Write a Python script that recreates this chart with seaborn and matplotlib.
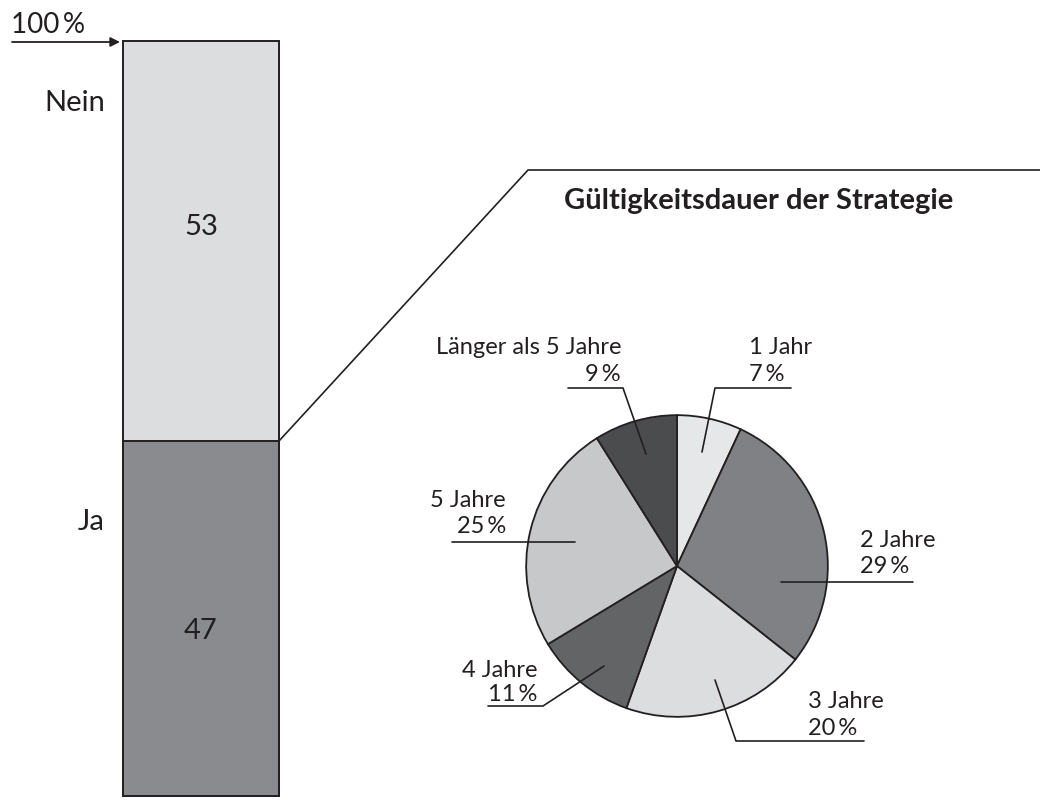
import matplotlib

matplotlib.use("Agg")
import matplotlib.pyplot as plt
import pandas as pd
import seaborn as sns

# Frage: Strategie vorhanden? (Anteile in %)
answers = ["Ja", "Nein"]
answer_shares = [47, 53]
answer_colors = ["#8a8b8e", "#dcdddf"]

# Gültigkeitsdauer der Strategie (Anteile in %)
durations = ["1 Jahr", "2 Jahre", "3 Jahre", "4 Jahre", "5 Jahre", "Länger als 5 Jahre"]
duration_shares = [7, 29, 20, 11, 25, 9]
duration_colors = ["#e6e7e8", "#808184", "#dcdddf", "#636466", "#c7c8ca", "#4b4c4e"]

title = "Gültigkeitsdauer der Strategie"
INK = "#231f20"
W, H = 1040, 804

sns.set_theme(style="white")
plt.rcParams["font.family"] = ["Lato", "DejaVu Sans"]
plt.rcParams["text.color"] = INK

fig = plt.figure(figsize=(W / 100, H / 100), dpi=100)


def px_axes(left, top, right, bottom, **kw):
    return fig.add_axes([left / W, 1 - bottom / H, (right - left) / W, (bottom - top) / H], **kw)


# stacked bar: total (Nein colour) with the Ja part drawn over it
ax_bar = px_axes(123, 42, 279, 797)
frame = pd.DataFrame({"group": ["gesamt"], "total": [sum(answer_shares)], "ja": [answer_shares[0]]})
for col, colour in [("total", answer_colors[1]), ("ja", answer_colors[0])]:
    sns.barplot(data=frame, x="group", y=col, color=colour, saturation=1, width=1,
                errorbar=None, edgecolor=INK, linewidth=1.4, ax=ax_bar)
for patch in ax_bar.patches:
    patch.set_clip_on(False)
ax_bar.set_xlim(-0.5, 0.5)
ax_bar.set_ylim(0, 100)
ax_bar.axis("off")
# value labels sit a little above the middle of each segment
ax_bar.text(0, answer_shares[0] + answer_shares[1] / 2 + 2, str(answer_shares[1]),
            ha="center", va="center", fontsize=21)
ax_bar.text(0, answer_shares[0] / 2 - 1.5, str(answer_shares[0]), ha="center", va="center", fontsize=21)

# pie
ax_pie = px_axes(677 - 181, 567 - 181, 677 + 181, 567 + 181)
ax_pie.pie(duration_shares, colors=duration_colors, startangle=90, counterclock=False,
           wedgeprops=dict(edgecolor=INK, linewidth=1.3))
ax_pie.set_xlim(-1.2, 1.2)
ax_pie.set_ylim(-1.2, 1.2)

# overlay in pixel coordinates for labels and lines
ax_ov = fig.add_axes([0, 0, 1, 1], zorder=5)
ax_ov.set_xlim(0, W)
ax_ov.set_ylim(H, 0)
ax_ov.axis("off")
ax_ov.patch.set_alpha(0)

ax_ov.text(105, 103, answers[1], ha="right", va="center", fontsize=21)
ax_ov.text(105, 522, answers[0], ha="right", va="center", fontsize=21)

ax_ov.text(11, 33, "100\u2009%", ha="left", va="baseline", fontsize=20)
ax_ov.annotate("", xy=(120, 43), xytext=(12, 43),
               arrowprops=dict(arrowstyle="-|>", color=INK, lw=1.3, mutation_scale=14, shrinkA=0, shrinkB=0))

ax_ov.plot([279, 528, 1040], [442, 171, 171], color=INK, lw=1.2)
ax_ov.text(759, 209, title, ha="center", va="baseline", fontsize=21, fontweight="bold")

label_layout = {
    "1 Jahr": dict(ha="left", x=749, y=(354, 381), line=[(702, 453), (715, 389), (791, 389)]),
    "2 Jahre": dict(ha="left", x=860, y=(547, 573), line=[(781, 583), (913, 583)]),
    "3 Jahre": dict(ha="left", x=808, y=(708, 735), line=[(715, 681), (736, 742), (864, 742)]),
    "4 Jahre": dict(ha="right", x=537, y=(677, 701), line=[(604, 667), (543, 707), (488, 707)]),
    "5 Jahre": dict(ha="right", x=506, y=(507, 533), line=[(575, 543), (452, 543)]),
    "Länger als 5 Jahre": dict(ha="right", x=621, y=(354, 381), line=[(646, 455), (623, 389), (568, 389)]),
}
for name, share in zip(durations, duration_shares):
    spec = label_layout[name]
    ax_ov.text(spec["x"], spec["y"][0], name, ha=spec["ha"], va="baseline", fontsize=17)
    ax_ov.text(spec["x"], spec["y"][1], f"{share}\u2009%", ha=spec["ha"], va="baseline", fontsize=17)
    xs, ys = zip(*spec["line"])
    ax_ov.plot(xs, ys, color=INK, lw=1.2)

fig.savefig("out.png", dpi=100)
plt.close(fig)
